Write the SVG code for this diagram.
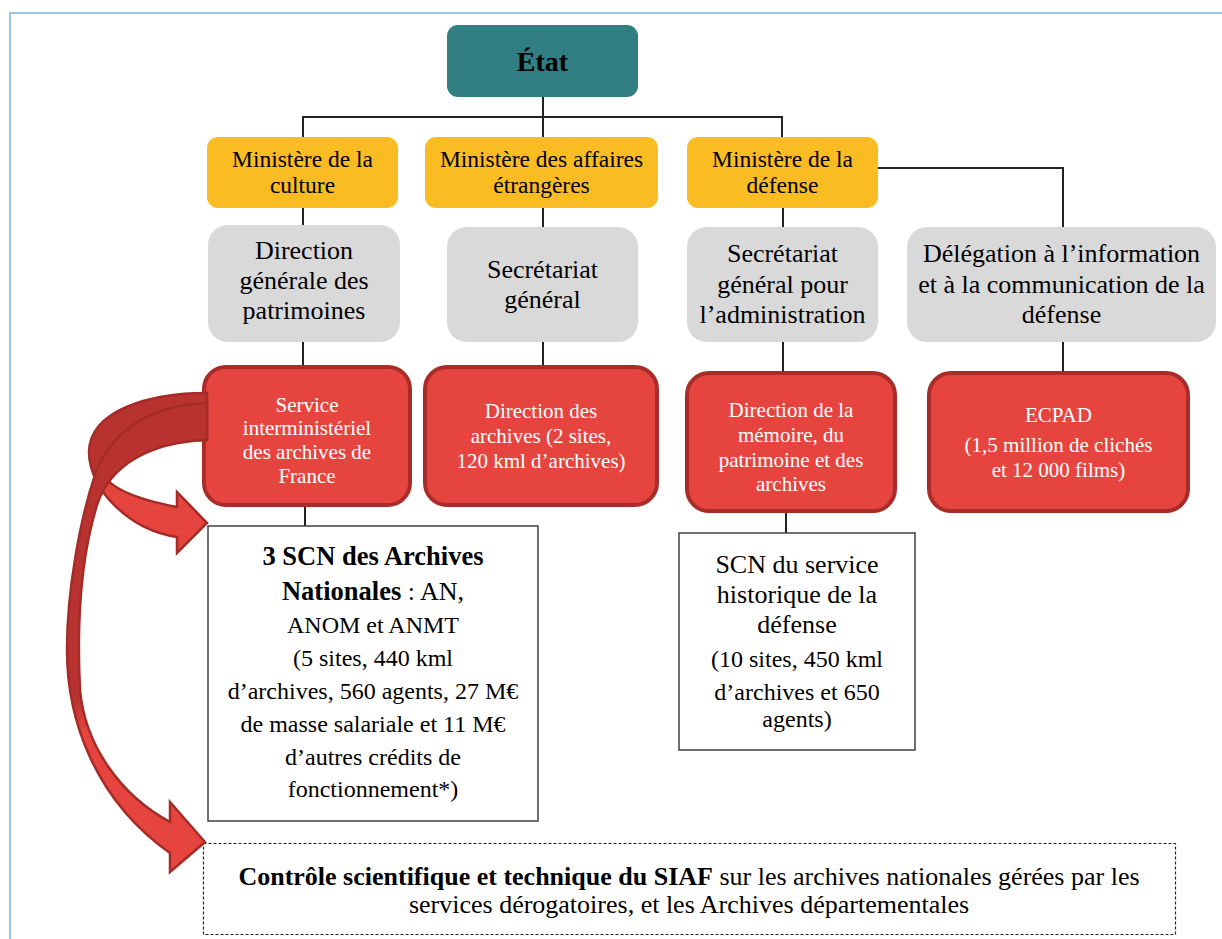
<svg xmlns="http://www.w3.org/2000/svg" width="1222" height="939" viewBox="0 0 1222 939">
<style>
text{text-anchor:middle;font-family:"Liberation Serif","Tinos","DejaVu Serif","Noto Serif",serif;}
.min{fill:#F9BC22;}
.gray{fill:#D9D9D9;}
.red{fill:#E6453F;stroke:#A92C28;stroke-width:4;}
.mt{font-size:23.5px;fill:#000;}
.gt{font-size:26px;fill:#000;}
.rt{font-size:21px;fill:#fff;}
.box{fill:#fff;stroke:#404040;stroke-width:1.5;}
.b{font-weight:bold;}
.conn line,.conn polyline{stroke:#222;stroke-width:2;fill:none;}
.arrow{stroke:#A52B27;stroke-width:2.5;stroke-linejoin:miter;}
</style>
<defs>
<linearGradient id="g1" gradientUnits="userSpaceOnUse" x1="0" y1="390" x2="0" y2="555">
<stop offset="0" stop-color="#B8332F"/><stop offset="0.48" stop-color="#B8332F"/><stop offset="0.58" stop-color="#E6453F"/><stop offset="1" stop-color="#E6453F"/>
</linearGradient>
<linearGradient id="g2" gradientUnits="userSpaceOnUse" x1="0" y1="400" x2="0" y2="875">
<stop offset="0" stop-color="#B8332F"/><stop offset="0.63" stop-color="#B8332F"/><stop offset="0.70" stop-color="#E6453F"/><stop offset="1" stop-color="#E6453F"/>
</linearGradient>
</defs>
<rect width="1222" height="939" fill="#fff"/>
<g id="frame" stroke="#9DC3E6" stroke-width="2" fill="none">
<line x1="9" y1="13" x2="1222" y2="13"/>
<line x1="10" y1="13" x2="10" y2="939"/>
</g>
<g class="conn" id="connectors">
<line x1="543" y1="97" x2="543" y2="137"/>
<polyline points="303,137 303,117 782,117 782,137"/>
<line x1="303" y1="208" x2="303" y2="225"/>
<line x1="543" y1="208" x2="543" y2="227"/>
<line x1="783" y1="208" x2="783" y2="227"/>
<polyline points="878,168 1063,168 1063,227"/>
<line x1="303" y1="342" x2="303" y2="366"/>
<line x1="543" y1="342" x2="543" y2="366"/>
<line x1="783" y1="342" x2="783" y2="372"/>
<line x1="1063" y1="342" x2="1063" y2="372"/>
<line x1="305" y1="506" x2="305" y2="527"/>
<line x1="786" y1="512" x2="786" y2="533"/>
</g>
<g id="etat">
<rect x="447" y="25" width="191" height="72" rx="11" fill="#317F83"/>
<text x="542.5" y="71" class="b" font-size="28px">État</text>
</g>
<g id="min-culture">
<rect class="min" x="207" y="137" width="191" height="71" rx="11"/>
<text class="mt" x="302.5" y="167">Ministère de la</text>
<text class="mt" x="302.5" y="193">culture</text>
</g>
<g id="min-ae">
<rect class="min" x="425" y="137" width="233" height="71" rx="11"/>
<text class="mt" x="541.5" y="167">Ministère des affaires</text>
<text class="mt" x="541.5" y="193">étrangères</text>
</g>
<g id="min-defense">
<rect class="min" x="687" y="137" width="191" height="71" rx="11"/>
<text class="mt" x="782.5" y="167">Ministère de la</text>
<text class="mt" x="782.5" y="193">défense</text>
</g>
<g id="dgp">
<rect class="gray" x="208" y="225" width="192" height="117" rx="20"/>
<text class="gt" x="304" y="259">Direction</text>
<text class="gt" x="304" y="289">générale des</text>
<text class="gt" x="304" y="319">patrimoines</text>
</g>
<g id="sg">
<rect class="gray" x="447" y="227" width="191" height="115" rx="20"/>
<text class="gt" x="542.5" y="278">Secrétariat</text>
<text class="gt" x="542.5" y="308">général</text>
</g>
<g id="sga">
<rect class="gray" x="687" y="227" width="191" height="115" rx="20"/>
<text class="gt" x="782.5" y="262">Secrétariat</text>
<text class="gt" x="782.5" y="293">général pour</text>
<text class="gt" x="782.5" y="323">l’administration</text>
</g>
<g id="dicod">
<rect class="gray" x="907" y="227" width="309" height="115" rx="20"/>
<text class="gt" x="1061.5" y="262">Délégation à l’information</text>
<text class="gt" x="1061.5" y="293">et à la communication de la</text>
<text class="gt" x="1061.5" y="323">défense</text>
</g>
<g id="siaf">
<rect class="red" x="204" y="367" width="206" height="138" rx="22"/>
<text class="rt" x="307" y="412">Service</text>
<text class="rt" x="307" y="435">interministériel</text>
<text class="rt" x="307" y="459">des archives de</text>
<text class="rt" x="307" y="483">France</text>
</g>
<g id="da">
<rect class="red" x="425" y="367" width="232" height="138" rx="22"/>
<text class="rt" x="541" y="418">Direction des</text>
<text class="rt" x="541" y="443">archives (2 sites,</text>
<text class="rt" x="541" y="468">120 kml d’archives)</text>
</g>
<g id="dmpa">
<rect class="red" x="687" y="373" width="208" height="138" rx="22"/>
<text class="rt" x="791" y="417">Direction de la</text>
<text class="rt" x="791" y="442">mémoire, du</text>
<text class="rt" x="791" y="467">patrimoine et des</text>
<text class="rt" x="791" y="491">archives</text>
</g>
<g id="ecpad">
<rect class="red" x="929" y="373" width="259" height="138" rx="22"/>
<text class="rt" x="1058.5" y="422">ECPAD</text>
<text class="rt" x="1058.5" y="452">(1,5 million de clichés</text>
<text class="rt" x="1058.5" y="477">et 12 000 films)</text>
</g>
<g id="scn-an">
<rect class="box" x="208" y="526" width="330" height="295"/>
<text x="373" y="565" class="b" font-size="26.5px">3 SCN des Archives</text>
<text x="373" y="600" font-size="26px"><tspan class="b" font-size="26.5px">Nationales</tspan> : AN,</text>
<text x="373" y="633" font-size="24px">ANOM et ANMT</text>
<text x="373" y="666" font-size="24px">(5 sites, 440 kml</text>
<text x="373" y="699" font-size="24px">d’archives, 560 agents, 27 M€</text>
<text x="373" y="732" font-size="24px">de masse salariale et 11 M€</text>
<text x="373" y="765" font-size="24px">d’autres crédits de</text>
<text x="373" y="797" font-size="24px">fonctionnement*)</text>
</g>
<g id="scn-shd">
<rect class="box" x="679" y="533" width="236" height="217"/>
<text x="797" y="573" font-size="26px">SCN du service</text>
<text x="797" y="603" font-size="26px">historique de la</text>
<text x="797" y="633" font-size="26px">défense</text>
<text x="797" y="667" font-size="24px">(10 sites, 450 kml</text>
<text x="797" y="700" font-size="24px">d’archives et 650</text>
<text x="797" y="727" font-size="24px">agents)</text>
</g>
<g id="controle">
<rect x="203.5" y="843.5" width="972" height="91" fill="#fff" stroke="#222" stroke-width="1.2" stroke-dasharray="3,2"/>
<text x="689" y="885" font-size="26px"><tspan class="b">Contrôle scientifique et technique du SIAF</tspan> sur les archives nationales gérées par les</text>
<text x="689" y="913" font-size="26px">services dérogatoires, et les Archives départementales</text>
</g>
<g id="arrows">
<path class="arrow" fill="url(#g1)" d="M207,393 C150,393 90,410 89,452 C89,490 130,530 177,537 L177,553 L207,523 L177,492 L177,507 C140,500 105,488 100,468 C98,450 140,440 207,440 Z"/>
<path class="arrow" fill="url(#g2)" d="M207,403 C150,405 110,432 95,475 C80,520 67,590 67,650 C67,720 95,800 170,853 L170,872 L205,842 L170,802 L170,822 C120,795 85,745 80,690 C77,630 80,560 97,505 C110,465 150,442 207,440 Z"/>
</g>
</svg>
